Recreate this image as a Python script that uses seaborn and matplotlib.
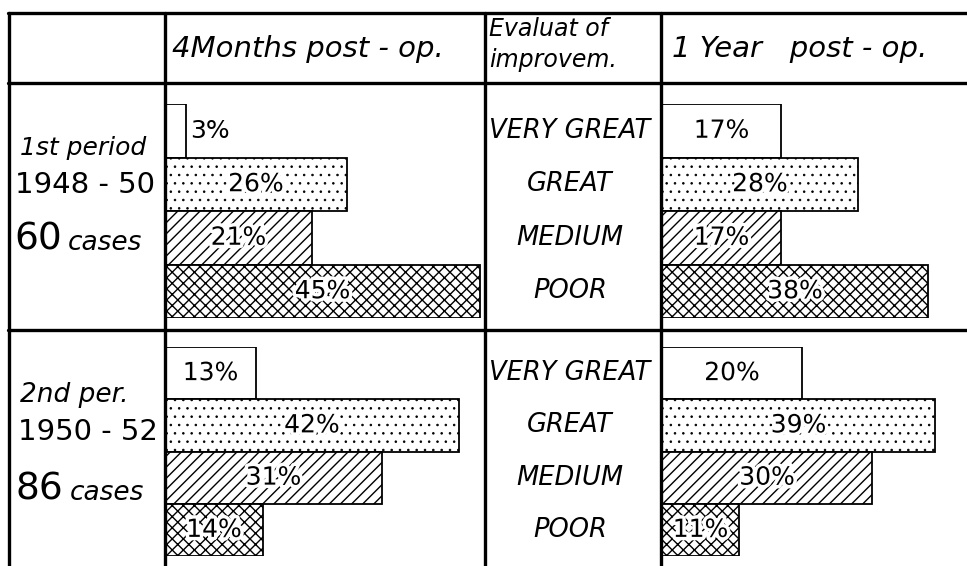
#
# Rebuild of the hand-lettered table chart: results 4 months and 1 year post-op
#

import pandas as pd
import matplotlib
matplotlib.use("Agg")
from matplotlib import pyplot as plt
from matplotlib.lines import Line2D
from matplotlib.transforms import blended_transform_factory
import matplotlib.patheffects as pe
import seaborn as sns

#
# Data
#

grades = ["VERY GREAT", "GREAT", "MEDIUM", "POOR"]
p1_4months = [3, 26, 21, 45]
p1_1year = [17, 28, 17, 38]
p2_4months = [13, 42, 31, 14]
p2_1year = [20, 39, 30, 11]

hatches = ["", "..", "///", "xxx"]
hatch_widths = [1.0, 0.6, 1.0, 1.0]

#
# Figure setup (everything laid out in pixels of the 967x566 picture)
#

W, H = 967, 566
PX_PER_PCT = 7.0

sns.set_theme(style="white")
plt.rcParams["font.family"] = ["DejaVu Sans"]
plt.rcParams["text.color"] = "black"
plt.rcParams["hatch.linewidth"] = 1.0
plt.rcParams["hatch.color"] = "black"

fig = plt.figure(figsize=(W / 100, H / 100), dpi=100)
fig.patch.set_facecolor("white")


def fx(x):
    return x / W


def fy(y):
    return 1 - y / H


def bar_cell(values, x0, x1, y0, y1):
    ax = fig.add_axes([fx(x0), fy(y1), (x1 - x0) / W, (y1 - y0) / H])
    df = pd.DataFrame({"grade": grades, "pct": values})
    sns.barplot(data=df, x="pct", y="grade", orient="h", color="white",
                saturation=1, width=1.0, errorbar=None, edgecolor="black",
                linewidth=1.3, ax=ax)
    for patch, h, hw in zip(ax.patches, hatches, hatch_widths):
        patch.set_facecolor("white")
        patch.set_hatch(h)
        if hasattr(patch, "set_hatch_linewidth"):
            patch.set_hatch_linewidth(hw)
    ax.set_xlim(0, (x1 - x0) / PX_PER_PCT)
    ax.set_ylim(3.5, -0.5)
    ax.axis("off")
    halo = [pe.withStroke(linewidth=5, foreground="white")]
    for i, v in enumerate(values):
        if v < 6:
            ax.text(v + 0.6, i, f"{v}%", ha="left", va="center",
                    fontsize=18, color="black")
        else:
            ax.text(v / 2, i, f"{v}%", ha="center", va="center",
                    fontsize=18, color="black", path_effects=halo)
    return ax


ax_a = bar_cell(p1_4months, 165, 485, 104, 318)
ax_b = bar_cell(p1_1year, 662, 967, 104, 318)
ax_c = bar_cell(p2_4months, 165, 485, 347, 556)
ax_d = bar_cell(p2_1year, 662, 967, 347, 556)

# grade names in the middle column, lined up with the bars
for ax in (ax_b, ax_d):
    tr = blended_transform_factory(fig.transFigure, ax.transData)
    for i, g in enumerate(grades):
        fig.text(fx(570), i, g, transform=tr, ha="center", va="center",
                 fontsize=18.5, style="italic", color="black")

#
# Table lines
#

lw = 2.4
hlines = [(13, 8, 967), (83, 8, 967), (330, 8, 967)]
vlines = [(9, 13, 566), (165, 13, 566), (485, 13, 566), (661, 13, 566)]
for y, xa, xb in hlines:
    fig.add_artist(Line2D([fx(xa), fx(xb)], [fy(y), fy(y)], color="black",
                          lw=lw, transform=fig.transFigure))
for x, ya, yb in vlines:
    fig.add_artist(Line2D([fx(x), fx(x)], [fy(ya), fy(yb)], color="black",
                          lw=lw, transform=fig.transFigure))

#
# Header and left column texts
#

fig.text(fx(172), fy(49), "4Months post - op.", fontsize=21, style="italic",
         ha="left", va="center")
fig.text(fx(489), fy(29), "Evaluat of", fontsize=17, style="italic",
         ha="left", va="center")
fig.text(fx(489), fy(60), "improvem.", fontsize=17, style="italic",
         ha="left", va="center")
fig.text(fx(672), fy(49), "1 Year   post - op.", fontsize=21, style="italic",
         ha="left", va="center")

fig.text(fx(20), fy(148), "1st period", fontsize=18, style="italic",
         ha="left", va="center")
fig.text(fx(15), fy(185), "1948 - 50", fontsize=21, ha="left", va="center")
fig.text(fx(14), fy(239), "60", fontsize=27, ha="left", va="center")
fig.text(fx(68), fy(243), "cases", fontsize=19, style="italic",
         ha="left", va="center")

fig.text(fx(20), fy(395), "2nd per.", fontsize=19, style="italic",
         ha="left", va="center")
fig.text(fx(18), fy(432), "1950 - 52", fontsize=21, ha="left", va="center")
fig.text(fx(16), fy(489), "86", fontsize=27, ha="left", va="center")
fig.text(fx(70), fy(493), "cases", fontsize=19, style="italic",
         ha="left", va="center")

plt.savefig("out.png", dpi=100, facecolor="white")
